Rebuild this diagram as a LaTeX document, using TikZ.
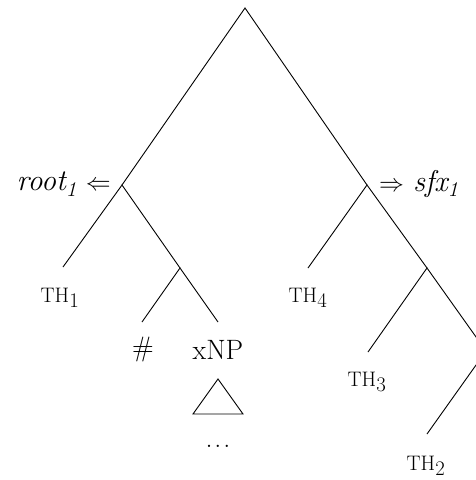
\documentclass[tikz,border=0pt]{standalone}
\usepackage{fontspec}
\setmainfont{Latin Modern Roman}
\newcommand{\thl}[1]{{\fontsize{21}{24}\selectfont TH}$_{#1}$}
\begin{document}
\begin{tikzpicture}[x=1pt,y=-1pt,
  edge/.style={line width=0.9pt},
  lbl/.style={inner sep=0pt,font=\fontsize{28}{32}\selectfont},
  big/.style={inner sep=0pt,font=\fontsize{30}{34}\selectfont}]
\useasboundingbox (0,0) rectangle (476,480);
\clip (0,0) rectangle (476,480);
% tree points
\coordinate (A) at (245,8);
\coordinate (L) at (122,185);
\coordinate (R) at (367,185);
\coordinate (t1) at (63,267);
\coordinate (Lr) at (180,268);
\coordinate (hs) at (142,322);
\coordinate (xn) at (218,322);
\coordinate (t4) at (308,268);
\coordinate (R2) at (427,268);
\coordinate (t3) at (368,352);
\coordinate (R3) at (486,351);
\coordinate (t2) at (427,434);
% edges
\draw[edge] (L) -- (A) -- (R);
\draw[edge] (t1) -- (L) -- (Lr);
\draw[edge] (hs) -- (Lr) -- (xn);
\draw[edge] (t4) -- (R) -- (R2);
\draw[edge] (t3) -- (R2) -- (R3);
\draw[edge] (R3) -- (t2);
% labels
\node[big,anchor=east] (root) at (111,184) {\textit{root\textsubscript{1}} $\Leftarrow$};
\node[big,anchor=west] (sfx) at (379,184) {$\Rightarrow$ \textit{sfx\textsubscript{1}}};
\node[lbl] (TH1) at (60,298) {\thl{1}};
\node[lbl] (TH4) at (308,298) {\thl{4}};
\node[lbl] (hash) at (143,350) {\#};
\node[lbl] (xNP) at (218,350) {xNP};
\node[lbl] (TH3) at (367,382) {\thl{3}};
\node[lbl] (TH2) at (426,466) {\thl{2}};
\coordinate (tA) at (218,379);
\coordinate (tL) at (193,414);
\coordinate (tR) at (243,414);
\draw[edge,line join=miter] (tA) -- (tL) -- (tR) -- cycle;
\node[lbl] (dots) at (218,446) {.\kern2pt.\kern2pt.};
\end{tikzpicture}
\end{document}
